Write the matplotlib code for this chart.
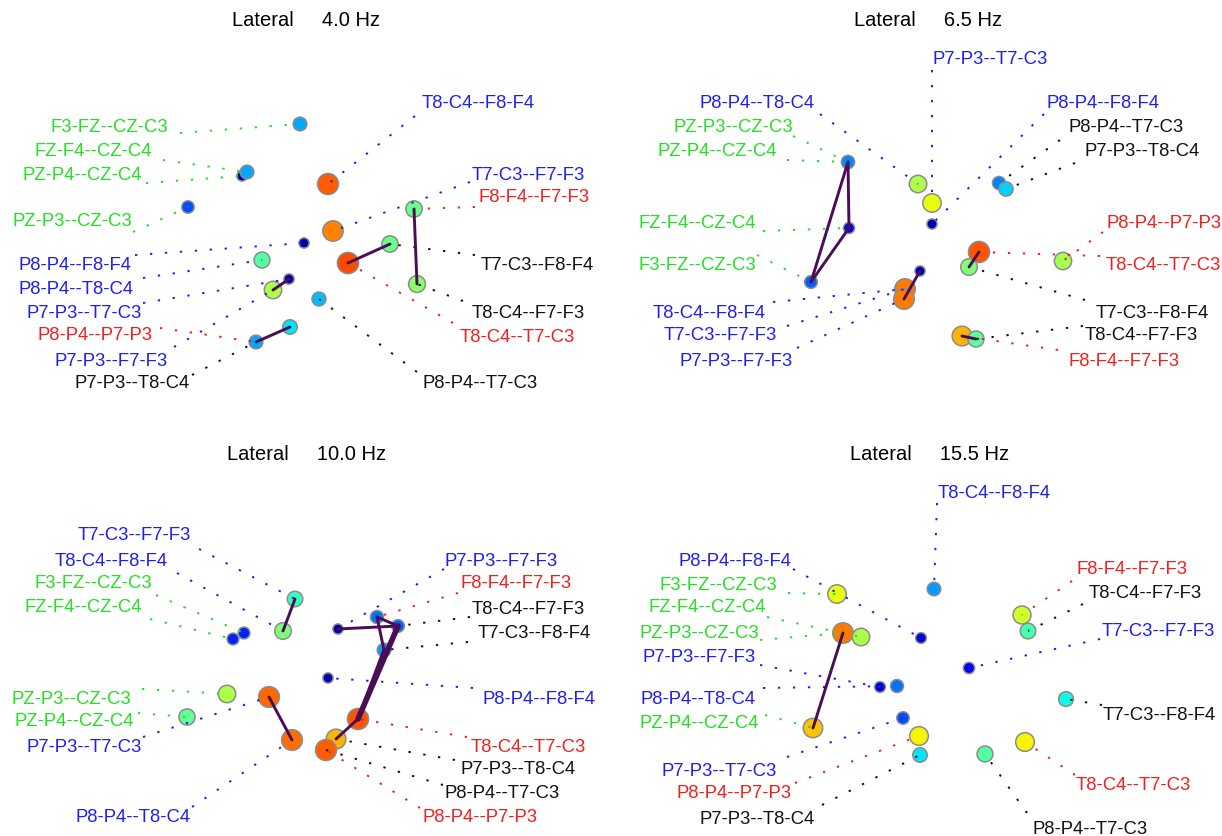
import matplotlib.pyplot as plt
import numpy as np

plt.rcParams['font.family'] = ['Liberation Sans', 'DejaVu Sans']

# colour codes used for the channel-pair labels and their leaders
label_colors = {'g': '#22e022', 'b': '#1e1ef0', 'r': '#f41e1e', 'k': '#111111'}
link_color = '#4a0e57'

# ---------------- 4.0 Hz ----------------
hz1_title = 'Lateral     4.0 Hz'
hz1_x = [300, 242, 247, 188, 304, 262, 273, 289, 290, 256, 328, 333, 348, 390, 414, 417, 319]
hz1_y = [124, 176, 172, 207, 243, 260, 290, 279, 327, 342, 184, 231, 263, 244, 209, 284, 299]
hz1_val = [0.29, 0.04, 0.29, 0.20, 0.04, 0.45, 0.56, 0.04, 0.35, 0.29,
           0.81, 0.77, 0.83, 0.48, 0.48, 0.52, 0.31]
hz1_text = ['F3-FZ--CZ-C3', 'FZ-F4--CZ-C4', 'PZ-P4--CZ-C4', 'PZ-P3--CZ-C3',
            'P8-P4--F8-F4', 'P8-P4--T8-C4', 'P7-P3--T7-C3', 'P8-P4--P7-P3',
            'P7-P3--F7-F3', 'P7-P3--T8-C4',
            'T8-C4--F8-F4', 'T7-C3--F7-F3', 'F8-F4--F7-F3', 'T7-C3--F8-F4',
            'T8-C4--F7-F3', 'T8-C4--T7-C3', 'P8-P4--T7-C3']
hz1_tcol = 'ggggbbbrbkbbrkkrk'
hz1_tx = [168, 152, 142, 132, 131, 134, 142, 153, 168, 190, 422, 472, 478, 481, 472, 460, 422]
hz1_ty = [127, 151, 175, 222, 266, 290, 313, 336, 361, 384, 103, 175, 198, 265, 313, 337, 384]
hz1_lx = [180, 163, 146, 133, 135, 143, 143, 160, 174, 192, 415, 470, 475, 475, 463, 453, 417]
hz1_ly = [133, 160, 183, 232, 255, 278, 303, 328, 347, 375, 116, 182, 207, 255, 301, 323, 372]
hz1_node = [0, 2, 1, 3, 4, 5, 7, 9, 6, 9, 10, 11, 14, 13, 15, 12, 16]
hz1_links = [(6, 7), (8, 9), (12, 13), (14, 15)]
hz1_link_w = [2.1, 2.1, 2.1, 2.1]

# ---------------- 6.5 Hz ----------------
hz2_title = 'Lateral     6.5 Hz'
hz2_x = [848, 849, 811, 918, 932, 932, 920, 905, 904, 999, 1006, 979, 969, 1063, 962, 976]
hz2_y = [162, 228, 282, 184, 203, 224, 271, 289, 299, 183, 189, 252, 267, 261, 336, 339]
hz2_val = [0.26, 0.10, 0.22, 0.56, 0.63, 0.04, 0.04, 0.78, 0.78, 0.25, 0.33,
           0.82, 0.50, 0.55, 0.72, 0.46]
hz2_text = ['P8-P4--T8-C4', 'PZ-P3--CZ-C3', 'PZ-P4--CZ-C4', 'FZ-F4--CZ-C4',
            'F3-FZ--CZ-C3', 'T8-C4--F8-F4', 'T7-C3--F7-F3', 'P7-P3--F7-F3',
            'P7-P3--T7-C3', 'P8-P4--F8-F4', 'P8-P4--T7-C3', 'P7-P3--T8-C4',
            'P8-P4--P7-P3', 'T8-C4--T7-C3', 'T7-C3--F8-F4', 'T8-C4--F7-F3',
            'F8-F4--F7-F3']
hz2_tcol = 'bggggbbbbbkkrrkkr'
hz2_tx = [815, 793, 777, 756, 756, 766, 777, 793, 932, 1047, 1069, 1085, 1107, 1106, 1096, 1085, 1069]
hz2_ty = [103, 127, 151, 223, 266, 313, 336, 361, 59, 103, 127, 151, 223, 266, 313, 336, 361]
hz2_lx = [820, 793, 787, 763, 757, 773, 787, 797, 932, 1044, 1060, 1075, 1103, 1100, 1085, 1083, 1058]
hz2_ly = [114, 136, 160, 231, 255, 302, 326, 348, 70, 114, 140, 163, 232, 256, 300, 326, 350]
hz2_node = [3, 0, 0, 1, 2, 7, 7, 8, 4, 5, 9, 10, 13, 11, 12, 15, 14]
hz2_links = [(0, 1), (0, 2), (1, 2), (6, 8), (11, 12), (14, 15)]
hz2_link_w = [2.1, 2.1, 2.1, 2.1, 2.1, 2.1]

# ---------------- 10.0 Hz ----------------
hz3_title = 'Lateral     10.0 Hz'
hz3_x = [295, 283, 244, 233, 227, 187, 269, 292, 338, 377, 398, 384, 328, 358, 336, 326]
hz3_y = [599, 631, 633, 639, 694, 717, 697, 740, 629, 617, 626, 650, 678, 719, 739, 750]
hz3_val = [0.42, 0.50, 0.16, 0.16, 0.56, 0.47, 0.80, 0.79, 0.04, 0.24, 0.22, 0.28,
           0.04, 0.82, 0.72, 0.81]
hz3_text = ['T7-C3--F7-F3', 'T8-C4--F8-F4', 'F3-FZ--CZ-C3', 'FZ-F4--CZ-C4',
            'PZ-P3--CZ-C3', 'PZ-P4--CZ-C4', 'P7-P3--T7-C3', 'P8-P4--T8-C4',
            'P7-P3--F7-F3', 'F8-F4--F7-F3', 'T8-C4--F7-F3', 'T7-C3--F8-F4',
            'P8-P4--F8-F4', 'T8-C4--T7-C3', 'P7-P3--T8-C4', 'P8-P4--T7-C3',
            'P8-P4--P7-P3']
hz3_tcol = 'bbggggbbbrkkbrkkr'
hz3_tx = [191, 168, 152, 142, 131, 134, 142, 191, 445, 461, 472, 478, 482, 471, 461, 445, 422]
hz3_ty = [536, 561, 584, 608, 699, 722, 747, 818, 561, 584, 609, 633, 699, 747, 770, 794, 818]
hz3_lx = [199, 177, 156, 150, 142, 138, 143, 192, 444, 458, 470, 468, 473, 467, 455, 443, 420]
hz3_ly = [549, 573, 595, 619, 689, 713, 737, 807, 569, 593, 617, 642, 688, 737, 760, 785, 808]
hz3_node = [0, 1, 2, 3, 4, 5, 6, 7, 8, 9, 10, 11, 12, 13, 14, 15, 15]
hz3_links = [(0, 1), (6, 7), (8, 10), (9, 10), (9, 11), (10, 13), (11, 13), (13, 14)]
hz3_link_w = [2.1, 2.1, 2.1, 2.1, 2.1, 4.0, 2.4, 2.1]

# ---------------- 15.5 Hz ----------------
hz4_title = 'Lateral     15.5 Hz'
hz4_x = [837, 843, 861, 934, 921, 880, 897, 813, 903, 919, 920, 1022, 1028, 969, 1066, 985, 1025]
hz4_y = [594, 633, 637, 589, 638, 687, 686, 728, 718, 736, 755, 615, 631, 668, 699, 754, 742]
hz4_val = [0.63, 0.78, 0.56, 0.28, 0.08, 0.08, 0.24, 0.70, 0.20, 0.65, 0.35,
           0.60, 0.43, 0.12, 0.37, 0.45, 0.65]
hz4_text = ['P8-P4--F8-F4', 'F3-FZ--CZ-C3', 'FZ-F4--CZ-C4', 'PZ-P3--CZ-C3',
            'P7-P3--F7-F3', 'P8-P4--T8-C4', 'PZ-P4--CZ-C4', 'P7-P3--T7-C3',
            'P8-P4--P7-P3', 'P7-P3--T8-C4', 'T8-C4--F8-F4', 'F8-F4--F7-F3',
            'T8-C4--F7-F3', 'T7-C3--F7-F3', 'T7-C3--F8-F4', 'T8-C4--T7-C3',
            'P8-P4--T7-C3']
hz4_tcol = 'bgggbbgbrkbrkbkrk'
hz4_tx = [792, 777, 766, 759, 756, 756, 759, 777, 792, 815, 938, 1076, 1089, 1102, 1103, 1076, 1033]
hz4_ty = [561, 585, 608, 633, 657, 699, 723, 771, 794, 819, 494, 569, 593, 631, 715, 785, 829]
hz4_lx = [793, 788, 767, 760, 760, 763, 765, 787, 795, 822, 937, 1072, 1083, 1100, 1102, 1075, 1027]
hz4_ly = [569, 593, 617, 640, 665, 688, 715, 757, 783, 805, 503, 581, 604, 639, 705, 775, 813]
hz4_node = [4, 0, 2, 1, 5, 6, 7, 8, 9, 10, 3, 11, 12, 13, 14, 16, 15]
hz4_links = [(1, 7)]
hz4_link_w = [2.1]


def draw_panel(ax, xlim, ylim, title, title_x, title_y, xs, ys, vals, texts, tcols,
               tx, ty, lx, ly, nodes, links, link_w):
    ax.set_xlim(*xlim)
    ax.set_ylim(*ylim)
    ax.axis('off')
    vals = np.asarray(vals)
    radius = 4.8 + 7.0 * vals          # marker radius in pixels grows with value
    ax.scatter(xs, ys, s=(1.44 * radius) ** 2, c=vals, cmap='jet', vmin=0, vmax=1,
               edgecolors='#8c8c8c', linewidths=1.1, zorder=2)
    for t, c, x, y, x0, y0, n in zip(texts, tcols, tx, ty, lx, ly, nodes):
        col = label_colors[c]
        ax.plot([x0, xs[n]], [y0, ys[n]], linestyle=(0, (1.2, 6.5)), lw=1.4,
                color=col, zorder=3)
        ha = 'right' if x < xs[n] else 'left'
        ax.text(x, y, t, color=col, ha=ha, va='center', fontsize=13.3, zorder=5)
    for (i, j), w in zip(links, link_w):
        ax.plot([xs[i], xs[j]], [ys[i], ys[j]], color=link_color, lw=w,
                solid_capstyle='round', zorder=4)
    ax.text(title_x, title_y, title, ha='center', va='center', fontsize=14.5,
            color='black')


fig = plt.figure(figsize=(12.22, 8.36), dpi=100)
ax1 = fig.add_axes([0, 0.5, 0.5, 0.5])
ax2 = fig.add_axes([0.5, 0.5, 0.5, 0.5])
ax3 = fig.add_axes([0, 0, 0.5, 0.5])
ax4 = fig.add_axes([0.5, 0, 0.5, 0.5])

draw_panel(ax1, (0, 611), (418, 0), hz1_title, 306, 20, hz1_x, hz1_y, hz1_val,
           hz1_text, hz1_tcol, hz1_tx, hz1_ty, hz1_lx, hz1_ly, hz1_node,
           hz1_links, hz1_link_w)
draw_panel(ax2, (611, 1222), (418, 0), hz2_title, 928, 20, hz2_x, hz2_y, hz2_val,
           hz2_text, hz2_tcol, hz2_tx, hz2_ty, hz2_lx, hz2_ly, hz2_node,
           hz2_links, hz2_link_w)
draw_panel(ax3, (0, 611), (836, 418), hz3_title, 307, 455, hz3_x, hz3_y, hz3_val,
           hz3_text, hz3_tcol, hz3_tx, hz3_ty, hz3_lx, hz3_ly, hz3_node,
           hz3_links, hz3_link_w)
draw_panel(ax4, (611, 1222), (836, 418), hz4_title, 930, 455, hz4_x, hz4_y, hz4_val,
           hz4_text, hz4_tcol, hz4_tx, hz4_ty, hz4_lx, hz4_ly, hz4_node,
           hz4_links, hz4_link_w)

fig.savefig('out.png', dpi=100, facecolor='white')
